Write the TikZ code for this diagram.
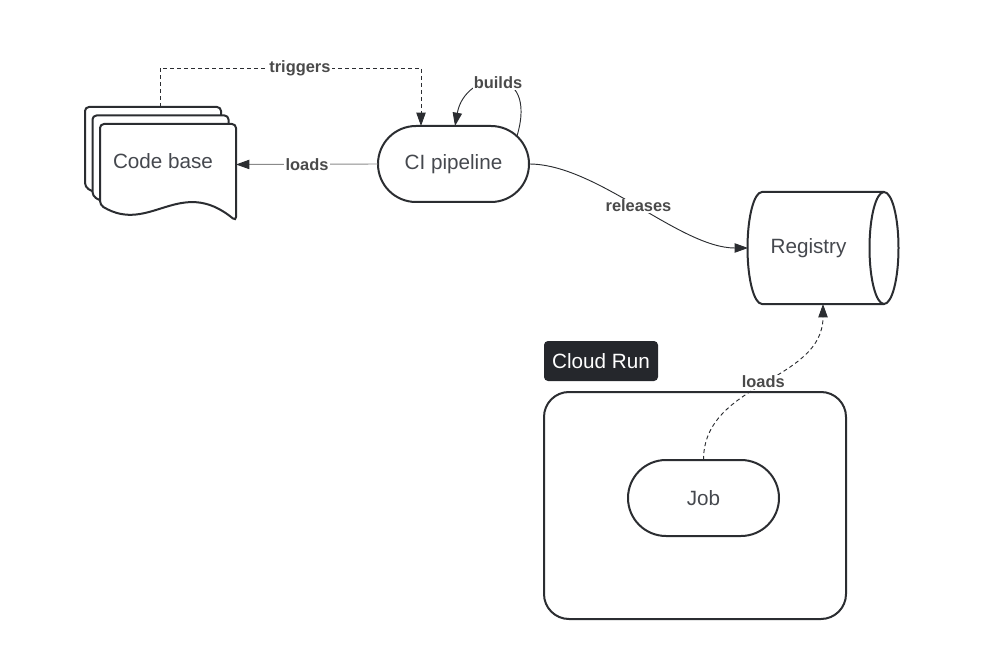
\documentclass[tikz,border=0pt]{standalone}
\usepackage{fontspec}
\setmainfont{Liberation Sans}
\usetikzlibrary{arrows.meta,calc}
\definecolor{bdc}{HTML}{2B2D31}
\definecolor{txc}{HTML}{45484E}
\definecolor{lbc}{HTML}{4A4A4A}
\definecolor{lnc}{HTML}{2B2D31}
\definecolor{lgc}{HTML}{8A8A8A}
\definecolor{crc}{HTML}{25272C}
\newcommand\docpath[4]{(#3,#4+16) .. controls (#1+80,#4-30) and (#1+50,#4+30) .. (#1,#4) -- (#1,#2) -- (#3,#2) -- cycle}
\tikzset{
  bd/.style={draw=bdc, line width=1.5pt},
  txt/.style={text=txc, font=\fontsize{15.5}{18}\selectfont},
  lbl/.style={fill=white, text=lbc, font=\bfseries\fontsize{12.3}{14}\selectfont, inner sep=1pt},
  conn/.style={draw=lnc, line width=0.7pt, -{Triangle[length=10pt,width=7pt,color=lnc]}},
  dsh/.style={dash pattern=on 3pt off 2.25pt},
  stadium/.style={bd, txt, rounded corners=28.5pt, minimum width=113.25pt, minimum height=57pt, outer sep=0pt, inner sep=0pt},
  docst/.style={bd, fill=white, rounded corners=3pt},
}
\begin{document}
\begin{tikzpicture}[x=0.75pt,y=-0.75pt]
\useasboundingbox (0,0) rectangle (992,670);
% code base documents
\draw[docst] \docpath{85}{107}{221}{187};
\draw[docst] \docpath{92.5}{115.5}{228.5}{196};
\draw[docst] \docpath{100}{124}{236}{205};
\node[minimum width=102pt, minimum height=60.75pt, inner sep=0pt, outer sep=0pt] (cb) at (168,164.5) {};
\node[txt] (cbt) at (163,161) {Code base};
\coordinate (cbtop) at (160,107);
% CI pipeline
\node[stadium] (ci) at (453.5,164) {CI pipeline};
% Registry
\draw[bd] (884,192) -- (762,192) arc[start angle=270, end angle=90, x radius=14.5, y radius=56] -- (884,304);
\draw[bd] (884,248) ellipse[x radius=14.5, y radius=56];
\node[txt, minimum width=90.75pt, minimum height=84pt, inner sep=0pt, outer sep=0pt] (reg) at (808.5,248) {Registry};
% Cloud Run
\node[bd, rounded corners=18.75pt, minimum width=226.5pt, minimum height=170.25pt, outer sep=0pt] (cr) at (695,505.5) {};
\node[fill=crc, rounded corners=3pt, minimum width=85.5pt, minimum height=30pt, text=white, font=\fontsize{15.5}{18}\selectfont] (crl) at (601,361) {Cloud Run};
\node[stadium] (job) at (703.5,498) {Job};
% connectors
\draw[conn, draw=lgc] (ci.west) -- (cb.east) node[midway, lbl] {loads};
\draw[conn, dsh] (cbtop) |- ($(ci.north)+(-32.5,-58)$) node[pos=0.768, lbl] {triggers} -- ($(ci.north)+(-32.5,0)$);
\draw[conn] ($(ci.center)+(63.5,-28)$) .. controls ($(ci.center)+(85.5,-102)$) and ($(ci.center)+(11.5,-94)$) .. ($(ci.north)+(1.5,0)$) node[midway, lbl] {builds};
\draw[conn] (ci.east) .. controls +(68,0) and +(-68,0) .. (reg.west) node[midway, lbl] {releases};
\draw[conn, dsh] (job.north) .. controls +(0,-78) and +(0,78) .. ($(reg.south)+(14.5,0)$) node[midway, lbl] {loads};
\end{tikzpicture}
\end{document}
